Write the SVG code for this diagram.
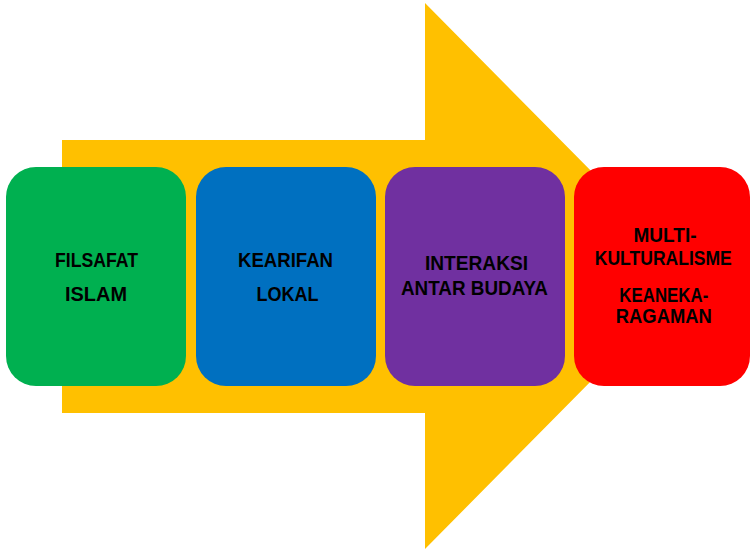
<svg xmlns="http://www.w3.org/2000/svg" width="750" height="551" viewBox="0 0 750 551">
<style>
.box{stroke:none}
.t{font-family:"Liberation Sans",Arial,sans-serif;font-weight:bold;font-size:20.5px;fill:#000;text-anchor:middle}
.s{font-size:19.5px}
</style>
<rect width="750" height="551" fill="#fff"/>
<g id="connectors">
<polygon id="arrow" points="62,140 425,140 425,3 695,276 425,549 425,413 62,413" fill="#FFC000"/>
</g>
<g id="n1">
<rect class="box" x="6" y="167" width="180" height="219" rx="30" fill="#00B050"/>
<text class="t" x="96.5" y="266.5" textLength="83" lengthAdjust="spacingAndGlyphs">FILSAFAT</text>
<text class="t" x="96" y="301" textLength="62" lengthAdjust="spacingAndGlyphs">ISLAM</text>
</g>
<g id="n2">
<rect class="box" x="196" y="167" width="180" height="219" rx="30" fill="#0070C0"/>
<text class="t" x="285.5" y="266.5" textLength="95" lengthAdjust="spacingAndGlyphs">KEARIFAN</text>
<text class="t" x="287.5" y="301" textLength="62" lengthAdjust="spacingAndGlyphs">LOKAL</text>
</g>
<g id="n3">
<rect class="box" x="385" y="167" width="180" height="219" rx="30" fill="#7030A0"/>
<text class="t" x="476.5" y="270" textLength="103" lengthAdjust="spacingAndGlyphs">INTERAKSI</text>
<text class="t" x="474.5" y="295" textLength="147" lengthAdjust="spacingAndGlyphs">ANTAR BUDAYA</text>
</g>
<g id="n4">
<rect class="box" x="574" y="167" width="176" height="219" rx="30" fill="#FF0000"/>
<text class="t s" x="665" y="241.5" textLength="63" lengthAdjust="spacingAndGlyphs">MULTI-</text>
<text class="t s" x="663.3" y="265" textLength="137" lengthAdjust="spacingAndGlyphs">KULTURALISME</text>
<text class="t s" x="663.8" y="301.5" textLength="89" lengthAdjust="spacingAndGlyphs">KEANEKA-</text>
<text class="t s" x="663.8" y="322.5" textLength="96" lengthAdjust="spacingAndGlyphs">RAGAMAN</text>
</g>
</svg>
